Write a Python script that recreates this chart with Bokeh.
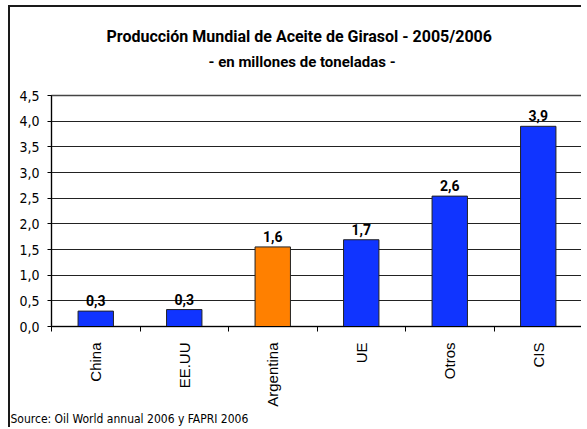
from bokeh.plotting import figure
from bokeh.models import (ColumnDataSource, FixedTicker, CustomJSTickFormatter, Range1d,
                          LabelSet, Title)
from bokeh.core.properties import value
from bokeh.embed import file_html
from bokeh.resources import INLINE
import math

categories = ["China", "EE.UU", "Argentina", "UE", "Otros", "CIS"]
values = [0.30, 0.33, 1.55, 1.69, 2.54, 3.90]
value_labels = ["0,3", "0,3", "1,6", "1,7", "2,6", "3,9"]
bar_colors = ["#1034FF", "#1034FF", "#FF8000", "#1034FF", "#1034FF", "#1034FF"]
y_ticks = [0.0, 0.5, 1.0, 1.5, 2.0, 2.5, 3.0, 3.5, 4.0, 4.5]

title1 = "Producción Mundial de Aceite de Girasol -  2005/2006"
title2 = "- en millones de  toneladas -"
source_note = "Source: Oil World annual 2006 y FAPRI 2006"

NARROW = "DejaVu Sans Condensed"
BOLD = "Roboto"

xs = [i + 0.5 for i in range(len(categories))]
src = ColumnDataSource(dict(x=xs, top=values, color=bar_colors, lab=value_labels))

p = figure(width=573, height=422, output_backend="svg", toolbar_location=None,
           x_range=Range1d(0, len(categories)), y_range=Range1d(0, 4.5),
           min_border_left=41, min_border_right=1, min_border_top=88, min_border_bottom=103)
p.styles = {"border-top": "2px solid #1a1a1a", "border-left": "2px solid #1a1a1a",
            "margin-top": "5px", "margin-left": "8px"}

p.vbar(x="x", top="top", width=0.4, bottom=0, source=src, fill_color="color",
       line_color="#222222", line_width=1)

p.add_layout(LabelSet(x="x", y="top", text="lab", source=src, text_align="center",
                      text_baseline="bottom", y_offset=5, text_font=value(BOLD),
                      text_font_style="bold", text_font_size="14px", text_color="black"))

# x axis
p.xaxis.ticker = FixedTicker(ticks=xs, minor_ticks=list(range(len(categories) + 1)))
p.xaxis.major_label_overrides = {x: c for x, c in zip(xs, categories)}
p.xaxis.major_label_orientation = math.pi / 2
p.xaxis.major_tick_line_color = None
p.xaxis.minor_tick_line_color = "black"
p.xaxis.minor_tick_out = 5
p.xaxis.minor_tick_in = 0
p.xaxis.axis_line_color = "black"
p.xaxis.major_label_text_font = "Liberation Sans"
p.xaxis.major_label_text_font_size = "15px"
p.xaxis.major_label_text_color = "black"
p.xaxis.major_label_standoff = 10

# y axis
p.yaxis.ticker = FixedTicker(ticks=y_ticks)
p.yaxis.formatter = CustomJSTickFormatter(code="return tick.toFixed(1).replace('.', ',');")
p.yaxis.minor_tick_line_color = None
p.yaxis.major_tick_out = 4
p.yaxis.major_tick_in = 0
p.yaxis.axis_line_color = "black"
p.yaxis.major_label_text_font = NARROW
p.yaxis.major_label_text_font_size = "14px"
p.yaxis.major_label_text_color = "black"
p.yaxis.major_label_standoff = 8

p.xgrid.grid_line_color = None
p.ygrid.grid_line_color = "#222222"
p.ygrid.ticker = FixedTicker(ticks=y_ticks)
p.outline_line_color = "#444444"
p.outline_line_width = 1.5

spacer = Title(text=" ", text_font_size="12px", standoff=9)
t2 = Title(text=title2, align="left", text_font=BOLD, text_font_size="15px",
           text_font_style="bold", text_color="black", standoff=0, offset=157)
t1 = Title(text=title1, align="left", text_font=BOLD, text_font_size="16px",
           text_font_style="bold", text_color="black", offset=55)
p.add_layout(spacer, "above")
p.add_layout(t2, "above")
p.add_layout(t1, "above")

src_title = Title(text=source_note, align="left", text_font=NARROW, text_font_size="12px",
                  text_font_style="normal", text_color="black", offset=-41, standoff=0)
p.add_layout(src_title, "below")

open("out.html", "w").write(file_html(p, INLINE))
